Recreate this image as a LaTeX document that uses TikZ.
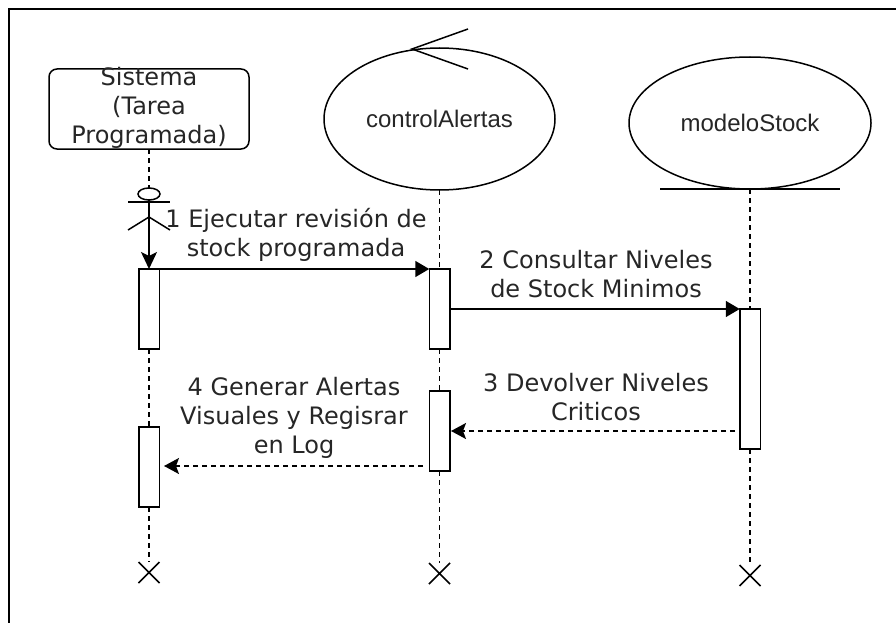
\documentclass[tikz,border=0pt]{standalone}
\usepackage{amsmath, fontspec}
\setmainfont{DejaVu Sans}
\newfontfamily\ovalfont{Liberation Sans}
\usetikzlibrary{arrows, arrows.meta, positioning, shapes.geometric, shapes.misc}

\begin{document}
\begin{tikzpicture}[x=1pt, y=-1pt]
	\tikzset {every path/.style={line width=1.5pt}, color=black, text=black!85, outer sep=0pt, node distance=1cm,
		sysbox/.style={draw, rectangle, rounded corners=8pt, minimum width=200pt, minimum height=80pt},
		oval/.style={draw, ellipse, inner sep=0pt, font=\ovalfont\fontsize{24}{28}\selectfont},
		msg/.style={align=center, inner sep=0pt, font=\fontsize{24}{29}\selectfont},
		bar/.style={draw, rectangle, minimum width=20.5pt, inner sep=0pt},
		stop/.style={draw, cross out, inner sep=0pt, minimum size=21pt},
		life/.style={dashed, dash pattern=on 5pt off 4pt},
		call/.style={-{Triangle[length=14pt,width=16pt]}},
		back/.style={life, -{Stealth[length=15pt,width=16pt,inset=3pt]}} }

	\useasboundingbox (0,0) rectangle (896,623);
	\coordinate (fa) at (9,623);
	\coordinate (fb) at (9,9);
	\coordinate (fc) at (896,9);
	\draw[line width=2.2pt] (fa) -- (fb) -- (fc);

	\node[sysbox] (sys) at (149,109) {};
	\node[msg] (syst) at (149,108) {Sistema\\(Tarea\\Programada)};
	\node[oval, minimum width=231pt, minimum height=142pt] (ctl) at (439.5,119) {controlAlertas};
	\node[oval, minimum width=242pt, minimum height=132pt] (mod) at (750,123) {modeloStock};

	\node[bar, minimum height=80pt, below=120pt of sys] (a1) {};
	\node[bar, minimum height=80pt, below=78pt of a1] (a2) {};
	\node[bar, minimum height=80pt, below=79pt of ctl] (b1) {};
	\node[bar, minimum height=80pt, below=42pt of b1] (b2) {};
	\node[bar, minimum height=140pt, below=120pt of mod] (c1) {};

	\node[stop, below=55pt of a2] (e1) {};
	\node[stop, below=92pt of b2] (e2) {};
	\node[stop, below=116pt of c1] (e3) {};

	\node[draw, ellipse, inner sep=0pt, minimum width=22pt, minimum height=12pt] (act) at (149,194) {};
	\coordinate (hip) at (149,217);
	\coordinate (arml) at (128,202);
	\coordinate (armr) at (170,202);
	\coordinate (legl) at (128,230);
	\coordinate (legr) at (170,230);
	\draw (arml) -- (armr);
	\draw (legl) -- (hip) -- (legr);
	\draw[-{Stealth[length=17pt,width=16pt,inset=4pt]}] (act) -- (a1.north);

	\coordinate (tl) at (468,29);
	\coordinate (tm) at (412,49);
	\coordinate (tb) at (468,69);
	\draw (tl) -- (tm) -- (tb);
	\coordinate (ml) at (660,189);
	\coordinate (mr) at (840,189);
	\draw (ml) -- (mr);

	\draw[life] (sys) -- (act);
	\draw[life] (a1) -- (a2);
	\draw[life] (a2) -- (e1);
	\draw[life] (ctl) -- (b1);
	\draw[life] (b1) -- (b2);
	\draw[life] (b2) -- (e2);
	\draw[life] (mod) -- (c1);
	\draw[life] (c1) -- (e3);

	\coordinate (c3) at (735,431);
	\coordinate (b3) at (451,431);
	\coordinate (b4) at (423,466);
	\coordinate (a4) at (164,466);
	\draw[call] (a1.north east) -- (b1.north west);
	\draw[call] (b1.east |- c1.north) -- (c1.north west);
	\draw[back] (c3) -- (b3);
	\draw[back] (b4) -- (a4);

	\node[msg] (m1) at (296,235) {1 Ejecutar revisión de\\stock programada};
	\node[msg] (m2) at (596,274) {2 Consultar Niveles\\de Stock Minimos};
	\node[msg] (m3) at (596,397) {3 Devolver Niveles\\Criticos};
	\node[msg] (m4) at (294,418) {4 Generar Alertas\\Visuales y Regisrar\\en Log};
\end{tikzpicture}
\end{document}
